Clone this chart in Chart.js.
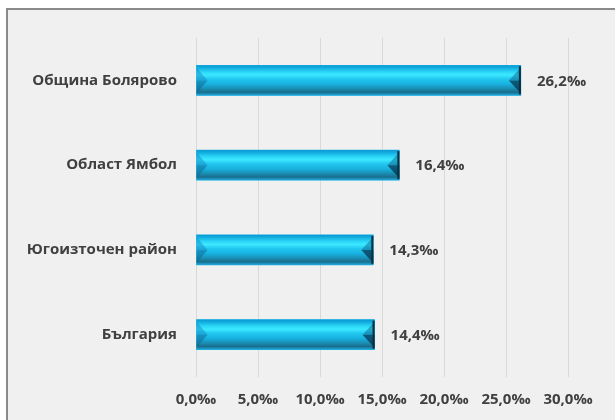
<!DOCTYPE html>
<html>
<head>
<meta charset="utf-8">
<script src="https://cdn.jsdelivr.net/npm/chart.js@4/dist/chart.umd.min.js"></script>
<style>
html,body{margin:0;padding:0;background:#fff;}
#wrap{position:relative;width:615px;height:420px;}
</style>
</head>
<body>
<div id="wrap"><canvas id="c" width="615" height="420"></canvas></div>
<script>
const categories = ['Община Болярово', 'Област Ямбол', 'Югоизточен район', 'България'];
const values = [26.2, 16.4, 14.3, 14.4];
const axisMin = 0, axisMax = 30, axisStep = 5;

const fmt = v => v.toFixed(1).replace('.', ',') + '‰';
const FONT = '"Open Sans", "Noto Sans", sans-serif';
const TEXT = '#404040';

const frame = {
  id: 'frame',
  beforeDraw(chart) {
    const ctx = chart.ctx;
    ctx.save();
    ctx.fillStyle = '#ffffff';
    ctx.fillRect(0, 0, chart.width, chart.height);
    ctx.fillStyle = '#f0f0f0';
    ctx.fillRect(8, 10, chart.width - 8, chart.height - 10);
    ctx.strokeStyle = '#8a8a8a';
    ctx.lineWidth = 2;
    ctx.beginPath();
    ctx.moveTo(7, chart.height);
    ctx.lineTo(7, 9);
    ctx.lineTo(chart.width, 9);
    ctx.stroke();
    ctx.restore();
  }
};

const bevel = {
  id: 'bevel',
  afterDatasetsDraw(chart) {
    const ctx = chart.ctx;
    const meta = chart.getDatasetMeta(0);
    ctx.save();
    meta.data.forEach((bar, i) => {
      const p = bar.getProps(['x', 'y', 'base', 'height'], true);
      const x0 = Math.min(p.base, p.x), x1 = Math.max(p.base, p.x);
      const top = p.y - p.height / 2, bot = p.y + p.height / 2, cy = p.y;
      const h = bot - top;
      const g = ctx.createLinearGradient(0, top, 0, bot);
      g.addColorStop(0, '#0a98d2');
      g.addColorStop(0.08, '#12acdf');
      g.addColorStop(0.22, '#2cd6f8');
      g.addColorStop(0.32, '#3ce9ff');
      g.addColorStop(0.45, '#22c8f0');
      g.addColorStop(0.62, '#18b2e0');
      g.addColorStop(0.78, '#1a8db2');
      g.addColorStop(0.9, '#1a6d8a');
      g.addColorStop(0.95, '#1b8fbb');
      g.addColorStop(1, '#1ea4d6');
      ctx.fillStyle = g;
      ctx.fillRect(x0, top, x1 - x0, h);
      const bw = 11;
      // left bevel
      ctx.fillStyle = 'rgba(20,130,190,0.45)';
      ctx.beginPath();
      ctx.moveTo(x0, top + 2); ctx.lineTo(x0 + bw, cy); ctx.lineTo(x0, cy); ctx.closePath(); ctx.fill();
      ctx.fillStyle = 'rgba(15,100,145,0.5)';
      ctx.beginPath();
      ctx.moveTo(x0, cy); ctx.lineTo(x0 + bw, cy); ctx.lineTo(x0, bot - 2); ctx.closePath(); ctx.fill();
      // right bevel
      ctx.fillStyle = 'rgba(10,90,130,0.45)';
      ctx.beginPath();
      ctx.moveTo(x1, top + 2); ctx.lineTo(x1 - bw - 1, cy); ctx.lineTo(x1, cy); ctx.closePath(); ctx.fill();
      ctx.fillStyle = 'rgba(5,45,70,0.7)';
      ctx.beginPath();
      ctx.moveTo(x1, cy); ctx.lineTo(x1 - bw - 1, cy); ctx.lineTo(x1, bot - 2); ctx.closePath(); ctx.fill();
      ctx.fillStyle = '#0a2f42';
      ctx.fillRect(x1 - 2, top + 1, 2, h - 2);
      // value label
      ctx.fillStyle = TEXT;
      ctx.font = 'bold 15px ' + FONT;
      ctx.textAlign = 'left';
      ctx.textBaseline = 'middle';
      ctx.fillText(fmt(values[i]), x1 + 16, cy + 1);
    });
    ctx.restore();
  }
};

new Chart(document.getElementById('c'), {
  type: 'bar',
  data: {
    labels: categories,
    datasets: [{
      data: values,
      backgroundColor: '#1ab8e8',
      borderWidth: 0,
      barThickness: 30
    }]
  },
  options: {
    indexAxis: 'y',
    responsive: false,
    animation: false,
    layout: { padding: { top: 38, right: 47, left: 0, bottom: 0 } },
    plugins: { legend: { display: false }, tooltip: { enabled: false } },
    scales: {
      x: {
        min: axisMin, max: axisMax,
        afterFit(s) { s.height = 43; },
        ticks: { stepSize: axisStep, callback: v => fmt(v), color: TEXT, font: { family: FONT, size: 15, weight: 'bold' }, padding: 14, maxRotation: 0 },
        grid: { color: '#d9d9d9', lineWidth: 1, drawTicks: false },
        border: { display: false }
      },
      y: {
        afterFit(s) { s.width = 196; },
        ticks: { color: TEXT, font: { family: FONT, size: 15, weight: 'bold' }, padding: 19 },
        grid: { display: false, drawTicks: false },
        border: { display: false }
      }
    }
  },
  plugins: [frame, bevel]
});
</script>
</body>
</html>
